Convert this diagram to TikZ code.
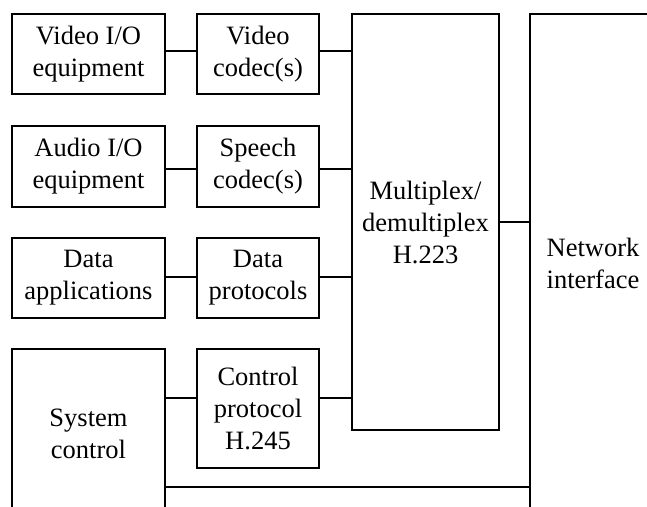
\documentclass[tikz,border=0pt]{standalone}
\usepackage{fontspec}
\setmainfont{Liberation Serif}
\begin{document}
\begin{tikzpicture}[x=1pt,y=-1pt,
  blk/.style={draw,line width=1.6pt,inner sep=0pt,align=center,font=\fontsize{26.5}{32}\selectfont},
  lnk/.style={line width=1.6pt}]
\useasboundingbox (0,0) rectangle (647,506);
\begin{scope}
\clip (0,0) rectangle (647,506);
% left column
\node[blk,minimum width=153pt,minimum height=80pt] (vio) at (88.5,54) {Video I/O\\equipment};
\node[blk,minimum width=153pt,minimum height=81pt] (aio) at (88.5,166.5) {Audio I/O\\equipment};
\node[blk,minimum width=153pt,minimum height=80pt] (dapp) at (88.5,278) {Data\\applications};
\node[blk,minimum width=153pt,minimum height=170pt] (sys) at (88.5,434) {System\\control};
% second column
\node[blk,minimum width=122pt,minimum height=80pt] (vcod) at (258,54) {Video\\codec(s)};
\node[blk,minimum width=122pt,minimum height=81pt] (scod) at (258,166.5) {Speech\\codec(s)};
\node[blk,minimum width=122pt,minimum height=80pt] (dprot) at (258,278) {Data\\protocols};
\node[blk,minimum width=122pt,minimum height=119pt] (cprot) at (258,408.5) {Control\\protocol\\H.245};
% mux
\node[blk,minimum width=147pt,minimum height=416pt] (mux) at (425.5,222) {Multiplex/\\demultiplex\\H.223};
% network interface
\node[blk,minimum width=126pt,minimum height=498pt] (net) at (593,263) {Network\\interface};
% connectors
\draw[lnk] ([yshift=3pt]vio.east) -- ([yshift=3pt]vcod.west);
\draw[lnk] ([yshift=-2.5pt]aio.east) -- ([yshift=-2.5pt]scod.west);
\draw[lnk] ([yshift=1pt]dapp.east) -- ([yshift=1pt]dprot.west);
\coordinate (cy) at (0,398);
\draw[lnk] (sys.east |- cy) -- (cprot.west |- cy);
\draw[lnk] ([yshift=3pt]vcod.east) -- ([yshift=3pt]vcod.east -| mux.west);
\draw[lnk] ([yshift=-2.5pt]scod.east) -- ([yshift=-2.5pt]scod.east -| mux.west);
\draw[lnk] ([yshift=1pt]dprot.east) -- ([yshift=1pt]dprot.east -| mux.west);
\draw[lnk] (cprot.east |- cy) -- (mux.west |- cy);
\draw[lnk] (mux.east) -- (mux.east -| net.west);
\coordinate (by) at (0,487);
\draw[lnk] (sys.east |- by) -- (net.west |- by);
\end{scope}
\end{tikzpicture}
\end{document}
